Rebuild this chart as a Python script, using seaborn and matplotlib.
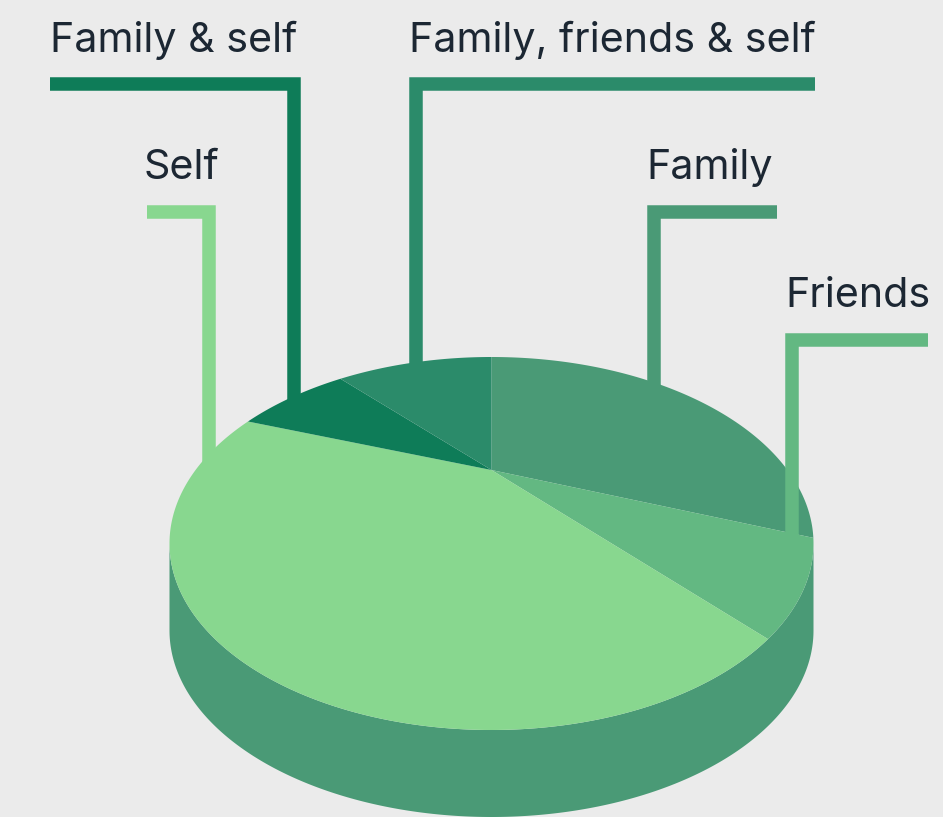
#!/usr/bin/env python3
# Tilted 3D pie with elbow leader lines

import numpy as np
import pandas as pd
import matplotlib
matplotlib.use("Agg")
import matplotlib.pyplot as plt
import seaborn as sns

# ── Data ───────────────────────────────────────
categories = ["Family", "Friends", "Self", "Family & self", "Family, friends & self"]
shares = [31.0, 7.6, 42.1, 7.8, 11.5]
colors = ["#4A9A76", "#63B882", "#88D78F", "#0E7C58", "#2B8B6A"]

# ── Layout (pixels) ────────────────────────────
W, H = 943, 817
CX, CY = 491.5, 543.5      # rim ellipse centre
RX, RY = 322, 186.5
DEPTH = 87
APEX_SHIFT = 0.394         # how far perspective moves the apex up the ellipse
LW = 13.5 * 72 / 100

# label: text x, baseline y, leader path
leaders = {
    "Self": (144, 179, [147, 209, 209], [211.5, 211.5, 470]),
    "Family & self": (50, 52, [50, 294, 294], [84, 84, 410]),
    "Family, friends & self": (409, 52, [815, 416, 416], [84, 84, 380]),
    "Family": (646, 179, [777, 653.5, 653.5], [211.5, 211.5, 400]),
    "Friends": (785, 307, [928, 791.5, 791.5], [340, 340, 545]),
}


def project(theta):
    # circle -> rim ellipse, the centre going to the off-centre apex
    k = APEX_SHIFT
    u, v = np.sin(theta), np.cos(theta)
    d = 1 + k * v
    return CX + RX * u * np.sqrt(1 - k**2) / d, CY - RY * (v + k) / d


def wedge(start, end):
    theta = np.linspace(start, end, 200)
    x, y = project(theta)
    return np.r_[CX, x], np.r_[CY - RY * APEX_SHIFT, y]


sns.set_theme(style="white")
plt.rcParams["font.family"] = ["Inter", "DejaVu Sans"]

fig = plt.figure(figsize=(W / 100, H / 100), dpi=100, facecolor="#EBEBEB")
ax = fig.add_axes([0, 0, 1, 1], facecolor="#EBEBEB")
ax.set_xlim(0, W)
ax.set_ylim(H, 0)
ax.axis("off")

# Side wall
t = np.linspace(np.pi / 2, 3 * np.pi / 2, 300)
sx = CX + RX * np.sin(t)
sy = CY - RY * np.cos(t)
ax.fill(np.r_[sx, sx[::-1]], np.r_[sy, sy[::-1] + DEPTH], color=colors[0], lw=0, zorder=1)

# Top slices, clockwise from 12 o'clock
palette = dict(zip(categories, sns.color_palette(colors)))
edges = np.r_[0, np.cumsum(shares)] / np.sum(shares) * 2 * np.pi
for i, name in enumerate(categories):
    wx, wy = wedge(edges[i], edges[i + 1])
    ax.fill(wx, wy, color=palette[name], lw=0, zorder=3 if name == "Family" else 5)

# Leaders and labels (Friends sits over the Family slice)
for name, (tx, ty, lx, ly) in leaders.items():
    path = pd.DataFrame({"x": lx, "y": ly})
    sns.lineplot(data=path, x="x", y="y", ax=ax, sort=False, estimator=None,
                 color=palette[name], lw=LW, solid_capstyle="butt",
                 solid_joinstyle="miter", zorder=4 if name == "Friends" else 2)
    ax.text(tx, ty, name, fontsize=29.7, color="#1C2733", va="baseline", ha="left")

ax.set_xlim(0, W)
ax.set_ylim(H, 0)
fig.savefig("out.png", dpi=100, facecolor=fig.get_facecolor())
